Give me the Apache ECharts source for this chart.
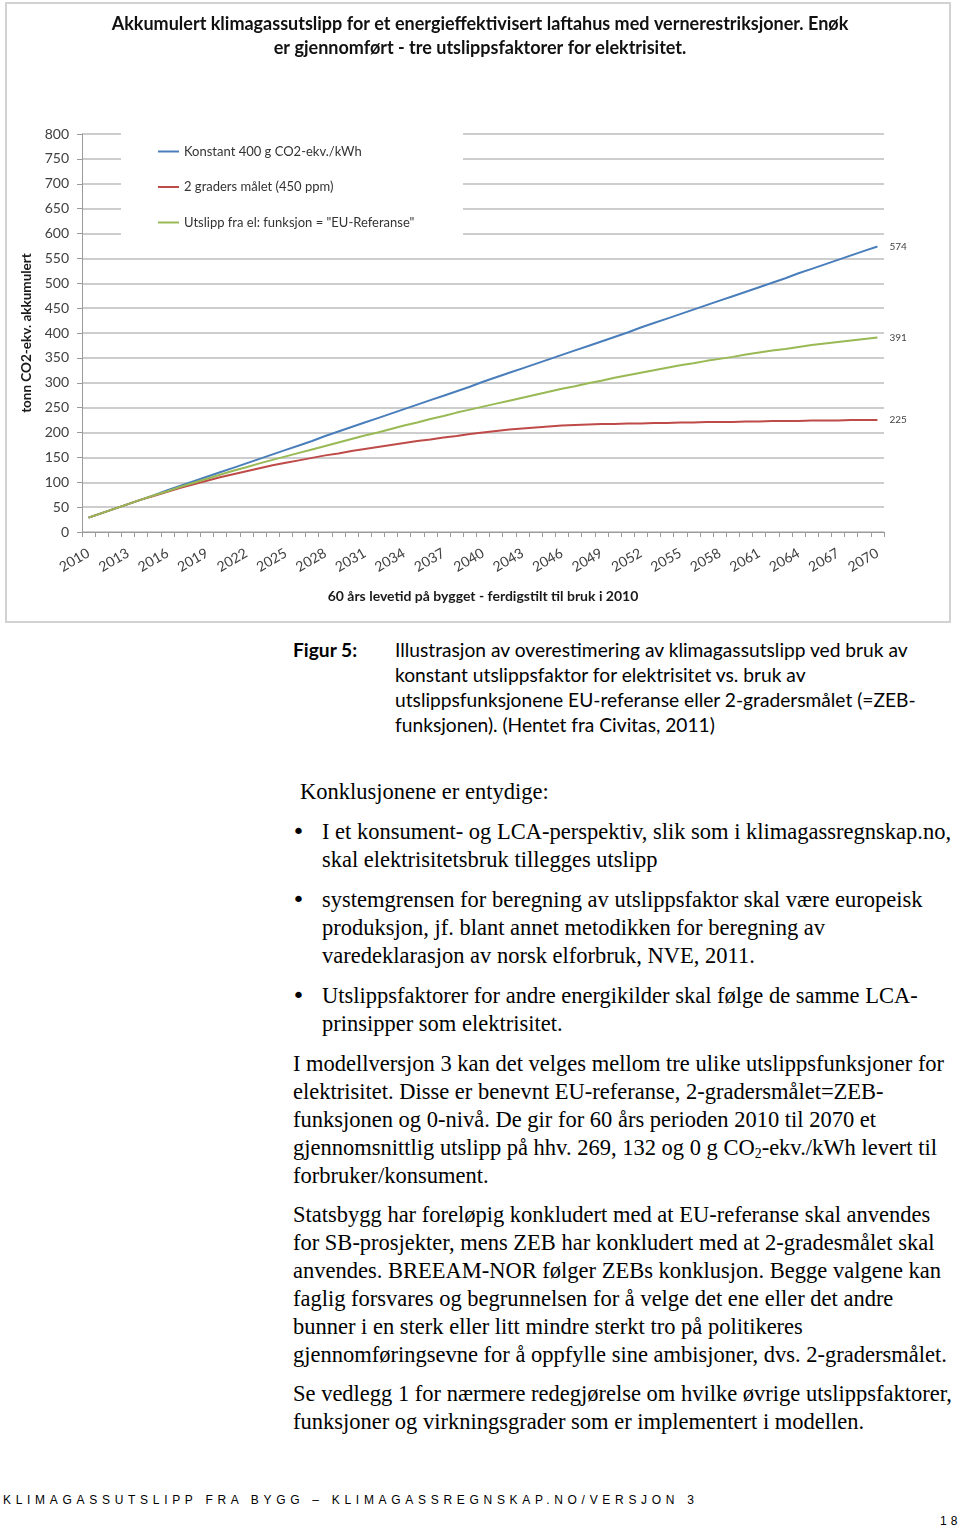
<!DOCTYPE html>
<html>
<head>
<meta charset="utf-8">
<script src="https://cdn.jsdelivr.net/npm/echarts@6/dist/echarts.min.js"></script>
<style>
  html, body { margin:0; padding:0; background:#fff; }
  body { width:960px; height:1529px; position:relative; overflow:hidden; }
  #chart { position:absolute; left:0; top:0; width:960px; height:630px; }
  #frame { position:absolute; left:5px; top:2px; width:942px; height:617px; border:2px solid #d2d2d2; pointer-events:none; }
  .cal { position:absolute; font-family:Lato, sans-serif; font-size:19.2px; color:#000; line-height:25px; white-space:nowrap; }
  .tr { position:absolute; font-family:"Liberation Serif", serif; font-size:22.5px; color:#000; line-height:28px; white-space:nowrap; }
  .bul { position:absolute; font-family:"DejaVu Sans", sans-serif; font-size:22px; line-height:28px; }
  .foot { position:absolute; font-family:"Liberation Sans", Arial, sans-serif; font-size:12px; letter-spacing:4.7px; color:#000; white-space:nowrap; line-height:16px; }
  sub { font-size:0.62em; vertical-align:-0.25em; line-height:0; }
</style>
</head>
<body>
<div id="chart"></div>
<div id="frame"></div>

<div class="cal" style="left:293px; top:637px; font-weight:bold;">Figur 5:</div>
<div class="cal" style="left:395px; top:637px;">Illustrasjon av overestimering av klimagassutslipp ved bruk av</div>
<div class="cal" style="left:395px; top:662px;">konstant utslippsfaktor for elektrisitet vs. bruk av</div>
<div class="cal" style="left:395px; top:687px;">utslippsfunksjonene EU-referanse eller 2-gradersmålet (=ZEB-</div>
<div class="cal" style="left:395px; top:712px;">funksjonen). (Hentet fra Civitas, 2011)</div>

<div class="tr" style="left:300px; top:778px;">Konklusjonene er entydige:</div>

<div class="bul" style="left:292px; top:818px;">•</div>
<div class="tr" style="left:322px; top:818px;">I et konsument- og LCA-perspektiv, slik som i klimagassregnskap.no,</div>
<div class="tr" style="left:322px; top:846px;">skal elektrisitetsbruk tillegges utslipp</div>

<div class="bul" style="left:292px; top:886px;">•</div>
<div class="tr" style="left:322px; top:886px;">systemgrensen for beregning av utslippsfaktor skal være europeisk</div>
<div class="tr" style="left:322px; top:914px;">produksjon, jf. blant annet metodikken for beregning av</div>
<div class="tr" style="left:322px; top:942px;">varedeklarasjon av norsk elforbruk, NVE, 2011.</div>

<div class="bul" style="left:292px; top:982px;">•</div>
<div class="tr" style="left:322px; top:982px;">Utslippsfaktorer for andre energikilder skal følge de samme LCA-</div>
<div class="tr" style="left:322px; top:1010px;">prinsipper som elektrisitet.</div>

<div class="tr" style="left:293px; top:1050px;">I modellversjon 3 kan det velges mellom tre ulike utslippsfunksjoner for</div>
<div class="tr" style="left:293px; top:1078px;">elektrisitet. Disse er benevnt EU-referanse, 2-gradersmålet=ZEB-</div>
<div class="tr" style="left:293px; top:1106px;">funksjonen og 0-nivå. De gir for 60 års perioden 2010 til 2070 et</div>
<div class="tr" style="left:293px; top:1134px;">gjennomsnittlig utslipp på hhv. 269, 132 og 0 g CO<sub>2</sub>-ekv./kWh levert til</div>
<div class="tr" style="left:293px; top:1162px;">forbruker/konsument.</div>

<div class="tr" style="left:293px; top:1201px;">Statsbygg har foreløpig konkludert med at EU-referanse skal anvendes</div>
<div class="tr" style="left:293px; top:1229px;">for SB-prosjekter, mens ZEB har konkludert med at 2-gradesmålet skal</div>
<div class="tr" style="left:293px; top:1257px;">anvendes. BREEAM-NOR følger ZEBs konklusjon. Begge valgene kan</div>
<div class="tr" style="left:293px; top:1285px;">faglig forsvares og begrunnelsen for å velge det ene eller det andre</div>
<div class="tr" style="left:293px; top:1313px;">bunner i en sterk eller litt mindre sterkt tro på politikeres</div>
<div class="tr" style="left:293px; top:1341px;">gjennomføringsevne for å oppfylle sine ambisjoner, dvs. 2-gradersmålet.</div>

<div class="tr" style="left:293px; top:1380px;">Se vedlegg 1 for nærmere redegjørelse om hvilke øvrige utslippsfaktorer,</div>
<div class="tr" style="left:293px; top:1408px;">funksjoner og virkningsgrader som er implementert i modellen.</div>

<div class="foot" style="left:3px; top:1492px;">KLIMAGASSUTSLIPP FRA BYGG – KLIMAGASSREGNSKAP.NO/VERSJON 3</div>
<div class="foot" style="left:940px; top:1513px; letter-spacing:4px;">18</div>

<script>
var years = [];
for (var y = 2010; y <= 2070; y++) years.push(String(y));

var konstant = [29, 38, 47, 56, 65, 74, 84, 93, 102, 111,
  120, 129, 138, 147, 156, 165, 174, 183, 193, 202,
  211, 220, 229, 238, 247, 256, 265, 274, 283, 292,
  302, 311, 320, 329, 338, 347, 356, 365, 374, 383,
  392, 401, 411, 420, 429, 438, 447, 456, 465, 474,
  483, 492, 501, 510, 520, 529, 538, 547, 556, 565,
  574];

var toGrader = [29, 38, 47, 56, 65, 73, 81, 89, 96, 103,
  110, 116, 122, 128, 134, 139, 144, 149, 154, 158,
  163, 167, 171, 175, 179, 183, 186, 190, 193, 197,
  200, 203, 206, 208, 210, 212, 214, 215, 216, 217,
  217, 218, 218, 219, 219, 220, 220, 221, 221, 221,
  222, 222, 223, 223, 223, 224, 224, 224, 225, 225,
  225];

var euRef = [29, 38, 47, 56, 65, 74, 82, 91, 99, 107,
  115, 123, 130, 138, 145, 152, 159, 166, 173, 180,
  187, 194, 200, 207, 214, 220, 227, 233, 240, 246,
  252, 258, 264, 270, 276, 282, 288, 293, 299, 304,
  310, 315, 320, 325, 330, 335, 339, 344, 348, 352,
  357, 361, 365, 368, 372, 376, 379, 382, 385, 388,
  391];

var seriesNames = ['Konstant 400 g CO2-ekv./kWh', '2 graders målet (450 ppm)', 'Utslipp fra el: funksjon = "EU-Referanse"'];
var seriesColors = ['#4a7ebb', '#be4b48', '#98b954'];
var seriesData = [konstant, toGrader, euRef];

var FONT = 'Lato, sans-serif';
var chart = echarts.init(document.getElementById('chart'), null, {renderer: 'canvas'});

var series = seriesData.map(function (d, i) {
  return {
    name: seriesNames[i],
    type: 'line',
    data: d,
    symbol: 'none',
    smooth: false,
    lineStyle: { color: seriesColors[i], width: 2 },
    itemStyle: { color: seriesColors[i] },
    endLabel: {
      show: true,
      formatter: function (p) { return p.value; },
      color: '#444',
      fontSize: 10,
      fontFamily: FONT,
      distance: 12
    },
    z: 2
  };
});

chart.setOption({
  animation: false,
  backgroundColor: '#fff',
  title: {
    text: 'Akkumulert klimagassutslipp for et energieffektivisert laftahus med vernerestriksjoner. Enøk\ner gjennomført - tre utslippsfaktorer for elektrisitet.',
    left: 'center',
    top: 7,
    textStyle: { fontFamily: FONT, fontSize: 18, fontWeight: 'bold', color: '#111', lineHeight: 24, align: 'center' }
  },
  graphic: [{
    type: 'rect', z: 3,
    shape: { x: 121, y: 127, width: 342, height: 115 },
    style: { fill: '#fff' }
  }],
  legend: {
    orient: 'vertical',
    left: 121,
    top: 130,
    padding: [15, 10, 10, 36],
    itemWidth: 21,
    itemHeight: 14,
    itemGap: 22.5,
    z: 4,
    itemStyle: { opacity: 0 },
    lineStyle: { width: 2 },
    textStyle: { fontFamily: FONT, fontSize: 13, color: '#333' },
    data: seriesNames
  },
  grid: { left: 82, right: 76, top: 134, bottom: 98, containLabel: false },
  xAxis: {
    type: 'category',
    data: years,
    boundaryGap: true,
    axisLine: { show: true, lineStyle: { color: '#9a9a9a', width: 1 } },
    axisTick: { show: true, interval: 0, length: 5, lineStyle: { color: '#9a9a9a' } },
    axisLabel: { interval: 2, rotate: 30, margin: 20, fontFamily: FONT, fontSize: 14, color: '#404040' },
    splitLine: { show: false },
    name: '60 års levetid på bygget - ferdigstilt til bruk i 2010',
    nameLocation: 'middle',
    nameGap: 57,
    nameTextStyle: { fontFamily: FONT, fontSize: 14, fontWeight: 'bold', color: '#1a1a1a' }
  },
  yAxis: {
    type: 'value',
    min: 0,
    max: 800,
    interval: 50,
    axisLine: { show: true, lineStyle: { color: '#9a9a9a', width: 1 } },
    axisTick: { show: true, length: 5, lineStyle: { color: '#9a9a9a' } },
    axisLabel: { margin: 13, fontFamily: FONT, fontSize: 14, color: '#404040' },
    splitLine: { show: true, lineStyle: { color: '#bdbdbd', width: 1.5 } },
    name: 'tonn CO2-ekv. akkumulert',
    nameLocation: 'middle',
    nameRotate: 90,
    nameGap: 44,
    nameTextStyle: { fontFamily: FONT, fontSize: 13.5, fontWeight: 'bold', color: '#1a1a1a' }
  },
  series: series
});
</script>
</body>
</html>
